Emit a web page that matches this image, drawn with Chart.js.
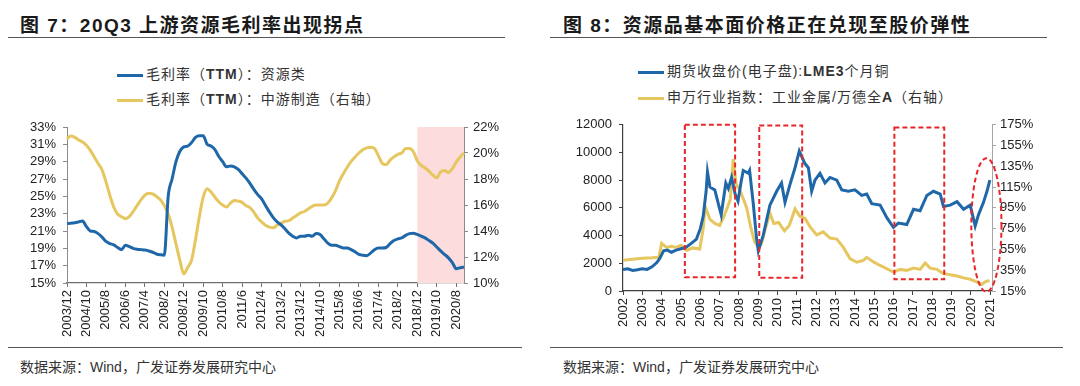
<!DOCTYPE html>
<html>
<head>
<meta charset="utf-8">
<script src="https://cdn.jsdelivr.net/npm/chart.js"></script>
<style>
  body { margin: 0; width: 1080px; height: 386px; background: #fff; position: relative; overflow: hidden;
         font-family: "Liberation Sans", "Noto Sans CJK SC", sans-serif; }
  .title { position: absolute; top: 10px; font-weight: bold; font-size: 19px; letter-spacing: 1.5px; color: #1a1a1a; white-space: nowrap; }
  .rule { position: absolute; height: 0; border-top: 1.5px solid #555; }
  .src { position: absolute; top: 356px; font-size: 14px; color: #333; white-space: nowrap; }
  .legend { position: absolute; font-size: 14px; color: #333; letter-spacing: 1px; white-space: nowrap; }
  .legend div { height: 25px; line-height: 25px; }
  .legend i { display: inline-block; width: 26px; height: 3px; vertical-align: middle; margin-right: 3px; }
  canvas { position: absolute; }
</style>
</head>
<body>
<div class="title" style="left:20px">图 7：20Q3 上游资源毛利率出现拐点</div>
<div class="title" style="left:563px">图 8：资源品基本面价格正在兑现至股价弹性</div>
<div class="rule" style="left:8px;top:37px;width:497px"></div>
<div class="rule" style="left:550px;top:37px;width:497px"></div>
<div class="rule" style="left:8px;top:347px;width:514px"></div>
<div class="rule" style="left:550px;top:347px;width:513px"></div>
<div class="src" style="left:20px">数据来源：Wind，广发证券发展研究中心</div>
<div class="src" style="left:563px">数据来源：Wind，广发证券发展研究中心</div>

<div class="legend" style="left:117px;top:62px">
  <div><i style="background:#1f67a8"></i>毛利率（<b>TTM</b>）：资源类</div>
  <div><i style="background:#e6c65e"></i>毛利率（<b>TTM</b>）：中游制造（右轴）</div>
</div>
<div class="legend" style="left:638px;top:58px">
  <div style="height:26px;line-height:26px"><i style="background:#1f67a8"></i>期货收盘价(电子盘):<b>LME3</b>个月铜</div>
  <div style="height:26px;line-height:26px"><i style="background:#e6c65e"></i>申万行业指数：工业金属/万德全<b>A</b>（右轴）</div>
</div>

<canvas id="c1" width="522" height="238" style="left:0;top:110px"></canvas>
<canvas id="c2" width="525" height="238" style="left:540px;top:110px"></canvas>

<script>
// ---------- Figure 7: gross margin (TTM), every 2 months 2003/12 .. 2020/12 ----------
const resourceMargin = [
  21.85,
  21.9, 21.95, 22.05, 22.15, 21.5, 21.0,
  20.95, 20.7, 20.3, 19.8, 19.55, 19.4,
  19.1, 18.85, 19.35, 19.2, 19.0, 18.9,
  18.85, 18.8, 18.7, 18.55, 18.35, 18.25,
  18.2, 25.0, 27.0, 29.0, 30.2, 30.7,
  30.8, 31.2, 31.8, 32.0, 32.0, 31.0,
  30.8, 30.4, 29.6, 29.0, 28.4, 28.5,
  28.4, 28.1, 27.6, 27.1, 26.5, 25.8,
  25.2, 24.7, 23.95, 23.2, 22.55, 22.05,
  21.7, 21.25, 20.75, 20.4, 20.2, 20.4,
  20.4, 20.5, 20.4, 20.7, 20.6, 20.1,
  19.6, 19.35, 19.35, 19.2, 19.05, 19.05,
  18.85, 18.6, 18.3, 18.2, 18.15, 18.45,
  18.85, 19.05, 19.05, 19.1, 19.55, 19.9,
  20.1, 20.2, 20.5, 20.7, 20.75, 20.6,
  20.4, 20.2, 19.9, 19.6, 19.15, 18.7,
  18.3, 17.9, 17.35, 16.65, 16.75, 16.85
];
const midstreamMargin = [
  21.1,
  21.3, 21.2, 21.0, 20.85, 20.6, 20.2,
  19.7, 19.2, 18.7, 17.8, 16.75, 15.85,
  15.3, 15.1, 14.95, 15.1, 15.5, 15.95,
  16.4, 16.75, 16.9, 16.85, 16.65, 16.4,
  15.95, 15.3, 14.3, 13.0, 11.75, 10.7,
  11.2, 11.75, 13.3, 15.1, 16.6, 17.25,
  17.0, 16.6, 16.25, 16.0, 15.85, 16.15,
  16.35, 16.3, 16.2, 15.95, 15.8, 15.45,
  15.0, 14.7, 14.45, 14.3, 14.25, 14.45,
  14.6, 14.75, 14.8, 15.0, 15.2, 15.4,
  15.5, 15.7, 15.9, 16.0, 16.0, 16.0,
  16.15, 16.55, 17.1, 17.85, 18.4, 18.9,
  19.35, 19.7, 20.0, 20.25, 20.4, 20.45,
  20.35, 19.8, 19.2, 19.1, 19.45, 19.7,
  19.9, 20.0, 20.35, 20.35, 20.1, 19.4,
  19.05, 18.85, 18.6, 18.3, 18.1, 18.55,
  18.65, 18.5, 18.8, 19.3, 19.7, 20.0
];
const gmLabels = resourceMargin.map((_, i) => {
  const t = 2003 * 12 + 11 + 2 * i;
  return `${Math.floor(t / 12)}/${t % 12 + 1}`;
});
const shadeFrom = '2018/12';

// ---------- Figure 8: LME copper vs. metals index / Wind A ----------
const cuYears = [
  2002.0, 2002.25, 2002.5, 2002.75, 2003.0, 2003.25, 2003.5, 2003.75, 2003.9, 2004.1,
  2004.3, 2004.5, 2004.75, 2005.0, 2005.25, 2005.5, 2005.8, 2006.0, 2006.15, 2006.3,
  2006.37, 2006.5, 2006.75, 2006.95, 2007.08, 2007.32, 2007.45, 2007.62, 2007.8, 2007.95,
  2008.1, 2008.22, 2008.48, 2008.55, 2008.74, 2008.91, 2009.0, 2009.25, 2009.6, 2009.95,
  2010.2, 2010.38, 2010.64, 2010.9, 2011.12, 2011.41, 2011.59, 2011.76, 2011.93, 2012.19,
  2012.45, 2012.71, 2013.06, 2013.32, 2013.66, 2014.0, 2014.35, 2014.61, 2014.87, 2015.3,
  2015.65, 2015.99, 2016.25, 2016.68, 2017.03, 2017.37, 2017.72, 2018.06, 2018.41, 2018.58,
  2018.93, 2019.28, 2019.62, 2019.96, 2020.22, 2020.39, 2020.65, 2020.83, 2020.98
];
const cuPrice = [
  1550, 1600, 1480, 1530, 1600, 1560, 1750, 2050, 2350, 2900,
  2950, 2800, 2950, 3050, 3150, 3400, 3750, 4500, 5400, 7200,
  8600, 7500, 7300, 6200, 5500, 7800, 7400, 8200, 7000, 6500,
  7800, 8700, 8500, 8700, 6300, 3800, 2900, 4000, 6200, 7200,
  7800, 6400, 7700, 8900, 10100, 9200, 8900, 7200, 8000, 8500,
  7800, 8200, 8000, 7300, 7200, 7300, 6900, 7000, 6300, 6200,
  5300, 4600, 4900, 4800, 5900, 5800, 6900, 7200, 7000, 6100,
  6200, 6450, 5900, 6200, 4700, 5500, 6400, 7200, 8000
];
const ratioYears = [
  2002.0, 2002.5, 2003.0, 2003.5, 2003.85, 2004.0, 2004.25, 2004.5, 2004.75, 2005.0,
  2005.3, 2005.6, 2005.97, 2006.15, 2006.25, 2006.5, 2006.75, 2007.0, 2007.25, 2007.55,
  2007.7, 2007.85, 2008.05, 2008.4, 2008.6, 2008.8, 2009.0, 2009.15, 2009.4, 2009.6,
  2009.8, 2010.05, 2010.35, 2010.6, 2010.9, 2011.15, 2011.41, 2011.67, 2012.02, 2012.36,
  2012.71, 2013.06, 2013.4, 2013.75, 2014.1, 2014.44, 2014.6, 2014.96, 2015.3, 2015.65,
  2015.99, 2016.34, 2016.68, 2017.03, 2017.37, 2017.63, 2017.89, 2018.24, 2018.58, 2018.93,
  2019.28, 2019.62, 2019.96, 2020.3, 2020.56, 2020.74, 2020.96
];
const metalsRatio = [
  44.5, 45.5, 46.5, 47.0, 47.5, 61.0, 57.0, 58.0, 57.0, 59.0,
  54.0, 56.5, 55.5, 75.0, 96.0, 84.0, 80.0, 78.0, 88.0, 103.0,
  142.0, 118.0, 112.0, 95.0, 77.0, 63.0, 57.0, 60.0, 77.0, 90.0,
  80.0, 81.0, 73.0, 78.0, 94.0, 87.0, 85.0, 77.0, 69.0, 72.0,
  66.0, 65.0, 57.0, 46.0, 42.7, 44.5, 47.4, 43.0, 39.6, 36.4,
  33.2, 35.8, 34.8, 37.0, 35.8, 42.0, 37.0, 35.8, 31.7, 30.7,
  29.4, 27.6, 26.3, 23.8, 21.3, 23.8, 25.3
];
const yearTicks = [2002, 2003, 2004, 2005, 2006, 2007, 2008, 2009, 2010, 2011,
                   2012, 2013, 2014, 2015, 2016, 2017, 2018, 2019, 2020, 2021];
// red dashed highlight boxes, in data units (years, copper price)
const highlightBoxes = [
  { x0: 2005.2, x1: 2007.8, y0: 1000, y1: 12000 },
  { x0: 2009.05, x1: 2011.27, y0: 950, y1: 11950 },
  { x0: 2016.04, x1: 2018.62, y0: 850, y1: 11800 }
];
const highlightEllipse = { x: 2020.8, y: 4770, rx: 0.78, ry: 4820 };

const BLUE = '#1f67a8', GOLD = '#e6c65e';
const tickFont = { family: '"Liberation Sans", Arial, sans-serif', size: 13 };
Chart.defaults.color = '#222';
Chart.defaults.animation = false;

const shadePlugin = {
  id: 'shade',
  beforeDatasetsDraw(chart) {
    const { ctx, chartArea, scales } = chart;
    const x0 = scales.x.getPixelForValue(gmLabels.indexOf(shadeFrom));
    ctx.save();
    ctx.fillStyle = '#fcdcdc';
    ctx.fillRect(x0, chartArea.top, chartArea.right - x0, chartArea.bottom - chartArea.top);
    ctx.restore();
  }
};

new Chart(document.getElementById('c1'), {
  type: 'line',
  data: {
    labels: gmLabels,
    datasets: [
      { label: '毛利率（TTM）：资源类', data: resourceMargin, borderColor: BLUE, borderWidth: 3,
        yAxisID: 'y', pointRadius: 0, tension: 0.3, cubicInterpolationMode: 'monotone' },
      { label: '毛利率（TTM）：中游制造（右轴）', data: midstreamMargin, borderColor: GOLD, borderWidth: 3,
        yAxisID: 'y2', pointRadius: 0, tension: 0.3, cubicInterpolationMode: 'monotone' }
    ]
  },
  options: {
    responsive: false,
    layout: { padding: { top: 17, left: 0, right: 0, bottom: 0 } },
    plugins: { legend: { display: false }, tooltip: { enabled: false } },
    scales: {
      x: {
        offset: false,
        border: { color: '#6f6f6f', width: 1.2 },
        grid: { drawOnChartArea: false, tickLength: 4, color: '#6f6f6f' },
        ticks: { autoSkip: false, minRotation: 90, maxRotation: 90, padding: 3, font: tickFont,
                 callback: (v, i) => i % 5 === 0 ? gmLabels[i] : null },
        afterFit: s => { s.height = 65; }
      },
      y: {
        position: 'left', min: 15, max: 33,
        border: { color: '#8a8a8a' },
        grid: { drawOnChartArea: false, tickLength: 4, color: '#8a8a8a' },
        ticks: { stepSize: 2, autoSkip: false, padding: 7, font: tickFont, callback: v => v + '%' },
        afterFit: s => { s.width = 67; }
      },
      y2: {
        position: 'right', min: 10, max: 22,
        border: { color: '#8a8a8a' },
        grid: { drawOnChartArea: false, tickLength: 4, color: '#8a8a8a' },
        ticks: { stepSize: 2, autoSkip: false, padding: 5, font: tickFont, callback: v => v + '%' },
        afterFit: s => { s.width = 58; }
      }
    }
  },
  plugins: [shadePlugin]
});

const markPlugin = {
  id: 'marks',
  afterDatasetsDraw(chart) {
    const { ctx, scales: { x, y } } = chart;
    ctx.save();
    ctx.strokeStyle = '#e8262a';
    ctx.lineWidth = 2;
    ctx.setLineDash([5, 3]);
    highlightBoxes.forEach(b => {
      const px0 = x.getPixelForValue(b.x0), px1 = x.getPixelForValue(b.x1);
      const py0 = y.getPixelForValue(b.y0), py1 = y.getPixelForValue(b.y1);
      ctx.strokeRect(px0, py1, px1 - px0, py0 - py1);
    });
    const e = highlightEllipse;
    const cx = x.getPixelForValue(e.x), cy = y.getPixelForValue(e.y);
    const rx = x.getPixelForValue(e.x + e.rx) - cx, ry = cy - y.getPixelForValue(e.y + e.ry);
    ctx.beginPath();
    ctx.ellipse(cx, cy, rx, ry, 0, 0, Math.PI * 2);
    ctx.stroke();
    ctx.restore();
  }
};

new Chart(document.getElementById('c2'), {
  type: 'line',
  data: {
    datasets: [
      { label: '期货收盘价(电子盘):LME3个月铜', data: cuYears.map((v, i) => ({ x: v, y: cuPrice[i] })),
        borderColor: BLUE, borderWidth: 3, yAxisID: 'y', pointRadius: 0, tension: 0 },
      { label: '申万行业指数：工业金属/万德全A（右轴）', data: ratioYears.map((v, i) => ({ x: v, y: metalsRatio[i] })),
        borderColor: GOLD, borderWidth: 3, yAxisID: 'y2', pointRadius: 0, tension: 0 }
    ]
  },
  options: {
    responsive: false,
    layout: { padding: { top: 12, left: 0, right: 0, bottom: 0 } },
    plugins: { legend: { display: false }, tooltip: { enabled: false } },
    scales: {
      x: {
        type: 'linear', min: 2002, max: 2021.09,
        border: { color: '#404040', width: 1.2 },
        grid: { drawOnChartArea: false, tickLength: 4, color: '#404040' },
        afterBuildTicks: s => { s.ticks = yearTicks.map(v => ({ value: v })); },
        ticks: { autoSkip: false, minRotation: 90, maxRotation: 90, padding: 3, font: tickFont,
                 callback: v => String(v) },
        afterFit: s => { s.height = 57; }
      },
      y: {
        position: 'left', min: 0, max: 12000,
        border: { color: '#404040', width: 1.2 },
        grid: { drawOnChartArea: false, tickLength: 4, color: '#404040' },
        ticks: { stepSize: 2000, autoSkip: false, padding: 7, font: tickFont, callback: v => String(v) },
        afterFit: s => { s.width = 83; }
      },
      y2: {
        position: 'right', min: 15, max: 175,
        border: { color: '#a6a6a6' },
        grid: { drawOnChartArea: false, tickLength: 4, color: '#a6a6a6' },
        ticks: { stepSize: 20, autoSkip: false, padding: 4, font: tickFont, callback: v => v + '%' },
        afterFit: s => { s.width = 73; }
      }
    }
  },
  plugins: [markPlugin]
});
</script>
</body>
</html>
